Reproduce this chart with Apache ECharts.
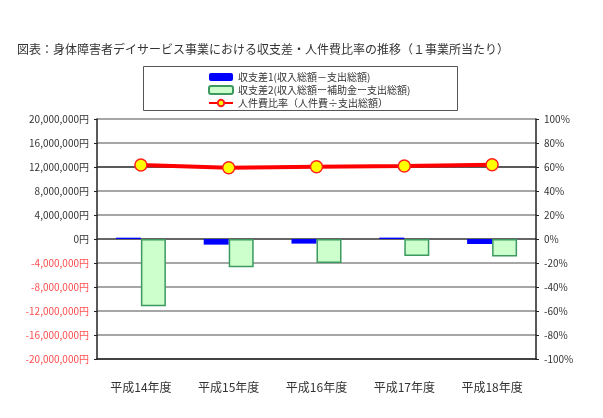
<!DOCTYPE html>
<html><head><meta charset="utf-8">
<script src="https://cdn.jsdelivr.net/npm/echarts@6/dist/echarts.min.js"></script>
<style>html,body{margin:0;padding:0;background:#fff}#c{width:603px;height:418px}</style>
</head><body><div id="c"></div>
<script>
const categories = ['平成14年度', '平成15年度', '平成16年度', '平成17年度', '平成18年度'];
const balance1 = [220000, -940000, -770000, 230000, -830000];
const balance2 = [-11200000, -4700000, -4000000, -2850000, -2900000];
const ratio = [61.6, 59.4, 60.2, 60.8, 61.9];
const seriesNames = ['収支差1(収入総額－支出総額)', '収支差2(収入総額ー補助金ー支出総額)', '人件費比率（人件費÷支出総額）'];
const titleText = '図表：身体障害者デイサービス事業における収支差・人件費比率の推移（１事業所当たり）';

const FONT = '"Noto Sans CJK JP", sans-serif';
const chart = echarts.init(document.getElementById('c'));
function fmtYen(v) {
  const s = Math.abs(v).toString().replace(/\B(?=(\d{3})+(?!\d))/g, ',');
  return (v < 0 ? '-' : '') + s + '円';
}
chart.setOption({
  animation: false,
  textStyle: { fontFamily: FONT },
  title: {
    text: titleText, left: 12, top: 38,
    textStyle: { fontSize: 12, fontWeight: 'normal', color: '#333', fontFamily: FONT }
  },
  graphic: [{
    type: 'rect', left: 143, top: 66, z: 0,
    shape: { width: 314, height: 44 },
    style: { fill: '#fff', stroke: '#555', lineWidth: 1 }
  }],
  legend: {
    orient: 'vertical', left: 203, top: 67, itemGap: 3,
    itemWidth: 24, itemHeight: 8,
    textStyle: { fontSize: 10, color: '#333', fontFamily: FONT },
    data: seriesNames
  },
  grid: { left: 97, right: 67, top: 119, bottom: 59 },
  xAxis: {
    type: 'category', data: categories,
    axisLine: { onZero: false, lineStyle: { color: '#222', width: 1.5 } },
    axisTick: { show: false },
    axisLabel: { fontSize: 12, color: '#333', margin: 22, fontFamily: FONT }
  },
  yAxis: [{
    type: 'value', min: -20000000, max: 20000000, interval: 4000000,
    axisLine: { show: true, lineStyle: { color: '#222', width: 1.5 } },
    axisTick: { show: true, length: 3, lineStyle: { color: '#222' } },
    axisLabel: {
      fontSize: 10, margin: 8, fontFamily: FONT,
      formatter: fmtYen,
      color: function (v) { return Number(v) < 0 ? '#ff4d4d' : '#333'; }
    },
    splitLine: {
      show: true,
      lineStyle: {
        width: 1.5,
        color: ['#888', '#888', '#888', '#888', '#888', '#333', '#888', '#888', '#222', '#888', '#888']
      }
    }
  }, {
    type: 'value', min: -100, max: 100, interval: 20,
    axisLine: { show: true, lineStyle: { color: '#222', width: 1.5 } },
    axisTick: { show: true, length: 3, lineStyle: { color: '#222' } },
    axisLabel: { fontSize: 10, color: '#333', margin: 8, formatter: '{value}%', fontFamily: FONT },
    splitLine: { show: false }
  }],
  series: [{
    name: seriesNames[0], type: 'bar', yAxisIndex: 0, data: balance1,
    barWidth: 25, barGap: '0%',
    itemStyle: { color: '#0000ff' }
  }, {
    name: seriesNames[1], type: 'bar', yAxisIndex: 0, data: balance2,
    barWidth: 25, barGap: '0%',
    itemStyle: { color: '#ccffcc', borderColor: '#3c9a60', borderWidth: 1.5 }
  }, {
    name: seriesNames[2], type: 'line', yAxisIndex: 1, data: ratio,
    symbol: 'circle', symbolSize: 12, z: 5,
    lineStyle: { color: '#ff0000', width: 4 },
    itemStyle: { color: '#ffff00', borderColor: '#ff2020', borderWidth: 1.5 }
  }]
});
</script></body></html>
